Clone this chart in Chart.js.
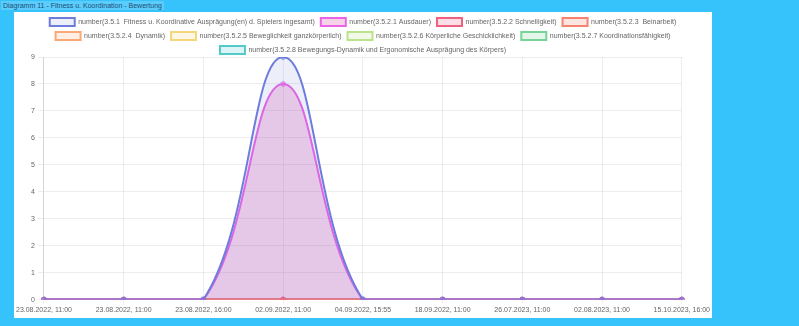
<!DOCTYPE html>
<html>
<head>
<meta charset="utf-8">
<script src="https://cdn.jsdelivr.net/npm/chart.js@4"></script>
<style>
    html, body {
        margin: 0;
        padding: 0;
        background: #36c3fc;
        width: 799px;
        height: 326px;
        overflow: hidden;
        font-family: 'Liberation Sans', Arial, sans-serif;
    }
    .title {
        position: absolute;
        left: 1px;
        top: 1px;
        padding: 1px 2px;
        font-size: 7px;
        color: #1d4f78;
        background: rgba(255, 255, 255, 0.18);
    }
    .panel {
        position: absolute;
        left: 14px;
        top: 12px;
        width: 698px;
        height: 306px;
        background: #fff;
    }
</style>
</head>
<body>
<div class="title">Diagramm 11 - Fitness u. Koordination - Bewertung</div>
<div class="panel"><canvas id="chart"></canvas></div>
<script>
const labels = [
    '23.08.2022, 11:00',
    '23.08.2022, 11:00',
    '23.08.2022, 16:00',
    '02.09.2022, 11:00',
    '04.09.2022, 15:55',
    '18.09.2022, 11:00',
    '26.07.2023, 11:00',
    '02.08.2023, 11:00',
    '15.10.2023, 16:00',
];

const seriesNames = [
    'number(3.5.1  Fitness u. Koordinative Ausprägung(en) d. Spielers ingesamt)',
    'number(3.5.2.1 Ausdauer)',
    'number(3.5.2.2 Schnelligkeit)',
    'number(3.5.2.3  Beinarbeit)',
    'number(3.5.2.4  Dynamik)',
    'number(3.5.2.5 Beweglichkeit ganzkörperlich)',
    'number(3.5.2.6 Körperliche Geschicklichkeit)',
    'number(3.5.2.7 Koordinationsfähigkeit)',
    'number(3.5.2.8 Bewegungs-Dynamik und Ergonomische Ausprägung des Körpers)',
];

const fitnessGesamt = [0, 0, 0, 9, 0, 0, 0, 0, 0];
const ausdauer = [0, 0, 0, 8, 0, 0, 0, 0, 0];
const schnelligkeit = [0, 0, 0, 0, 0, 0, 0, 0, 0];
const beinarbeit = [0, 0, 0, 0, 0, 0, 0, 0, 0];
const dynamik = [0, 0, 0, 0, 0, 0, 0, 0, 0];
const beweglichkeit = [0, 0, 0, 0, 0, 0, 0, 0, 0];
const geschicklichkeit = [0, 0, 0, 0, 0, 0, 0, 0, 0];
const koordination = [0, 0, 0, 0, 0, 0, 0, 0, 0];
const bewegungsDynamik = [0, 0, 0, 0, 0, 0, 0, 0, 0];

const seriesValues = [
    fitnessGesamt, ausdauer, schnelligkeit, beinarbeit, dynamik,
    beweglichkeit, geschicklichkeit, koordination, bewegungsDynamik,
];

// line colour, fill colour
const colors = [
    ['rgb(110, 124, 220)', 'rgba(110, 124, 220, 0.13)'],
    ['rgb(236, 100, 230)', 'rgba(222, 96, 176, 0.28)'],
    ['rgb(240, 96, 128)', 'rgba(240, 96, 128, 0.2)'],
    ['rgb(246, 130, 112)', 'rgba(246, 130, 112, 0.2)'],
    ['rgb(250, 168, 118)', 'rgba(250, 168, 118, 0.2)'],
    ['rgb(246, 214, 122)', 'rgba(246, 214, 122, 0.2)'],
    ['rgb(188, 226, 140)', 'rgba(188, 226, 140, 0.2)'],
    ['rgb(118, 212, 152)', 'rgba(118, 212, 152, 0.2)'],
    ['rgb(82, 202, 204)', 'rgba(82, 202, 204, 0.2)'],
];

const datasets = seriesNames.map((name, i) => ({
    label: name,
    data: seriesValues[i],
    borderColor: colors[i][0],
    backgroundColor: colors[i][1],
    pointBackgroundColor: colors[i][0].replace('rgb', 'rgba').replace(')', ', 0.55)'),
    pointBorderColor: colors[i][0].replace('rgb', 'rgba').replace(')', ', 0.55)'),
    borderWidth: 2,
    pointRadius: 2.5,
    pointBorderWidth: 1,
    fill: true,
    tension: 0.4,
}));

// the legend in the picture sits a bit closer to the plot than chart.js puts it
const legendGap = {
    id: 'legendGap',
    afterInit(chart) {
        const fit = chart.legend.fit;
        chart.legend.fit = function () {
            fit.call(this);
            this.height -= 7;
        };
    },
};

Chart.defaults.font.family = "'Liberation Sans', Arial, sans-serif";
Chart.defaults.font.size = 7;
Chart.defaults.color = '#666';

new Chart(document.getElementById('chart').getContext('2d'), {
    type: 'line',
    data: { labels, datasets },
    plugins: [legendGap],
    options: {
        responsive: true,
        maintainAspectRatio: false,
        animation: false,
        layout: {
            padding: { bottom: 2 },
        },
        plugins: {
            legend: {
                display: true,
                position: 'top',
                labels: {
                    boxWidth: 25,
                    boxHeight: 8,
                    padding: 6,
                    font: { size: 7 },
                },
            },
            tooltip: { enabled: false },
        },
        scales: {
            y: {
                min: 0,
                max: 9,
                ticks: { stepSize: 1 },
                grid: { color: 'rgba(0, 0, 0, 0.07)', tickLength: 6 },
            },
            x: {
                ticks: { maxRotation: 0, autoSkip: false, padding: 2 },
                grid: { color: 'rgba(0, 0, 0, 0.07)', tickLength: 4 },
            },
        },
    },
});
</script>
</body>
</html>
